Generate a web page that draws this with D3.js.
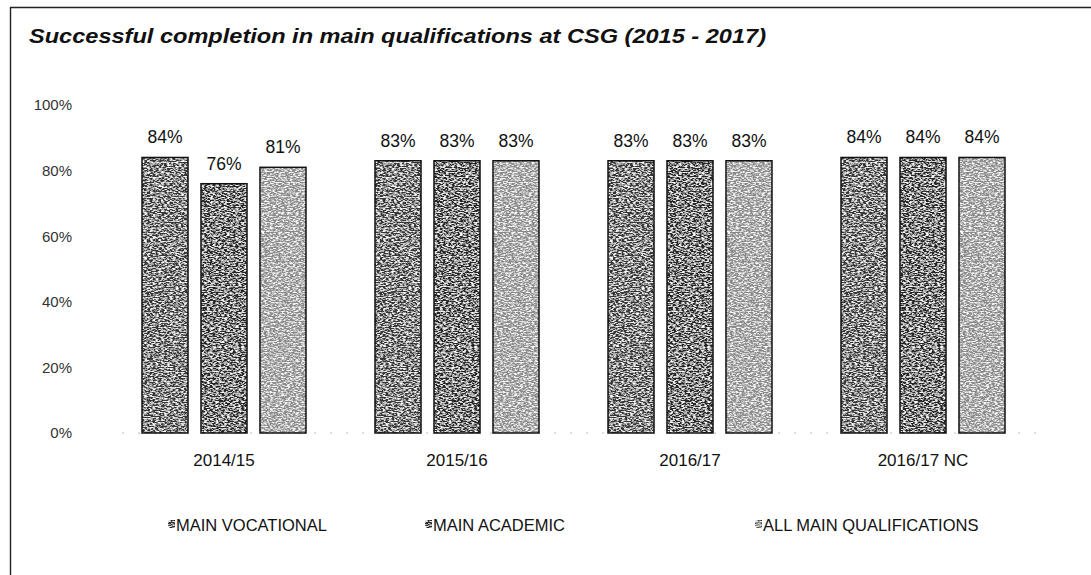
<!DOCTYPE html>
<html><head><meta charset="utf-8">
<script src="https://cdn.jsdelivr.net/npm/d3@7"></script>
<style>body{margin:0;background:#fff}svg{display:block}</style>
</head><body><svg id="c" width="1091" height="575"></svg>
<script>
const categories = ["2014/15", "2015/16", "2016/17", "2016/17 NC"];
const seriesNames = ["MAIN VOCATIONAL", "MAIN ACADEMIC", "ALL MAIN QUALIFICATIONS"];
const vocational = [84, 83, 83, 84];
const academic = [76, 83, 83, 84];
const allMain = [81, 83, 83, 84];
const yTicks = [0, 20, 40, 60, 80, 100];
const title = "Successful completion in main qualifications at CSG (2015 - 2017)";

const seriesValues = [vocational, academic, allMain];
const colors = ["#363636", "#282828", "#8a8a8a"];
const font = "'Liberation Sans', Arial, sans-serif";

const svg = d3.select("#c");
const defs = svg.append("defs");
const f = defs.append("filter").attr("id", "noise").attr("x", 0).attr("y", 0).attr("width", 1).attr("height", 1);
f.append("feTurbulence").attr("type", "fractalNoise").attr("baseFrequency", "0.35 0.8")
  .attr("numOctaves", 2).attr("seed", 7).attr("result", "t");
f.append("feColorMatrix").attr("in", "t").attr("type", "matrix")
  .attr("values", "0 0 0 0 1  0 0 0 0 1  0 0 0 0 1  3.4 0 0 0 -1.45").attr("result", "w");
f.append("feComposite").attr("in", "w").attr("in2", "SourceGraphic").attr("operator", "in").attr("result", "ws");
const fm = f.append("feMerge");
fm.append("feMergeNode").attr("in", "SourceGraphic");
fm.append("feMergeNode").attr("in", "ws");

// frame: top and left edges only
svg.append("line").attr("x1", 10).attr("x2", 1091).attr("y1", 7.5).attr("y2", 7.5)
  .attr("stroke", "#222").attr("stroke-width", 1.6);
svg.append("line").attr("x1", 10.5).attr("x2", 10.5).attr("y1", 7).attr("y2", 575)
  .attr("stroke", "#222").attr("stroke-width", 1.4);

svg.append("text").attr("x", 29).attr("y", 43).text(title)
  .attr("font-family", font).attr("font-size", 20).attr("font-weight", "bold")
  .attr("font-style", "italic").attr("fill", "#111")
  .attr("textLength", 737).attr("lengthAdjust", "spacingAndGlyphs");

const y = d3.scaleLinear().domain([0, 100]).range([433, 105]);
const x0 = d3.scaleBand().domain(categories).range([107.5, 1039.5]).padding(0);
const x1 = d3.scaleBand().domain(seriesNames).range([0, x0.bandwidth()])
  .paddingInner(0.22).paddingOuter(0.585);

// baseline
svg.append("line").attr("x1", 122).attr("x2", 1045).attr("y1", y(0)).attr("y2", y(0))
  .attr("stroke", "#bbb").attr("stroke-dasharray", "2,14");

// y axis labels
const yAxis = d3.axisLeft(y).tickValues(yTicks).tickFormat(d => d + "%").tickSize(0).tickPadding(0);
const ga = svg.append("g").attr("transform", "translate(72,0)").call(yAxis);
ga.select(".domain").remove();
ga.selectAll("text").attr("font-family", font).attr("font-size", 15).attr("fill", "#333");

const groups = svg.append("g").selectAll("g").data(categories).join("g")
  .attr("transform", d => `translate(${x0(d)},0)`);

groups.each(function(cat, ci) {
  const g = d3.select(this);
  seriesNames.forEach((s, si) => {
    const v = seriesValues[si][ci];
    g.append("rect").attr("x", x1(s)).attr("y", y(v)).attr("width", x1.bandwidth())
      .attr("height", y(0) - y(v)).attr("fill", colors[si]).attr("filter", "url(#noise)");
    g.append("rect").attr("x", x1(s)).attr("y", y(v)).attr("width", x1.bandwidth())
      .attr("height", y(0) - y(v)).attr("fill", "none").attr("stroke", "#111").attr("stroke-width", 1.5);
    g.append("text").attr("x", x1(s) + x1.bandwidth() / 2).attr("y", y(v) - 14)
      .attr("text-anchor", "middle").text(v + "%")
      .attr("font-family", font).attr("font-size", 17.5).attr("fill", "#111");
  });
});

// category axis
const xAxis = d3.axisBottom(x0).tickSize(0).tickPadding(0);
const gx = svg.append("g").attr("transform", "translate(0,454)").call(xAxis);
gx.select(".domain").remove();
gx.selectAll("text").attr("font-family", font).attr("font-size", 17).attr("fill", "#111");

// legend
const legendX = [168, 425, 755];
const leg = svg.append("g").selectAll("g").data(seriesNames).join("g")
  .attr("transform", (d, i) => `translate(${legendX[i]},525)`);
leg.append("rect").attr("x", 0).attr("y", -5).attr("width", 7).attr("height", 8)
  .attr("fill", (d, i) => colors[i]).attr("stroke", "#111").attr("filter", "url(#noise)");
leg.append("text").attr("x", 8).attr("y", 6).text(d => d)
  .attr("font-family", font).attr("font-size", 16.5).attr("fill", "#111");
</script></body></html>
